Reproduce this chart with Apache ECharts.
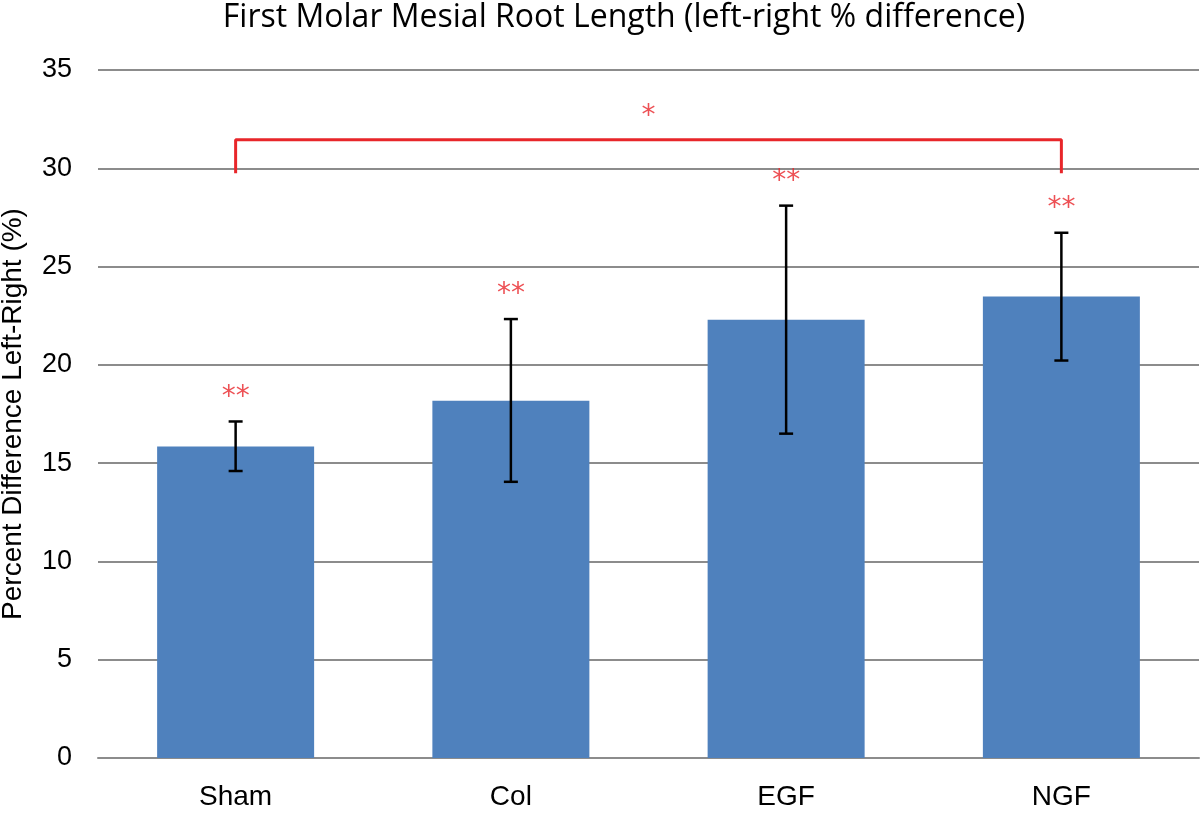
<!DOCTYPE html>
<html><head><meta charset="utf-8">
<script src="https://cdn.jsdelivr.net/npm/echarts@6/dist/echarts.min.js"></script>
<style>html,body{margin:0;padding:0;background:#fff}#c{width:1200px;height:813px}</style>
</head><body><div id="c"></div>
<script>
const categories = ['Sham', 'Col', 'EGF', 'NGF'];
const means = [15.85, 18.17, 22.3, 23.48];
const errLow = [14.6, 14.05, 16.5, 20.22];
const errHigh = [17.12, 22.33, 28.1, 26.72];
const sigLabels = ['**', '**', '**', '**'];
const bracketX = [0, 0, 3, 3];
const bracketY = [29.75, 31.45, 31.45, 29.75];
const bracketLabel = '*';
const bracketLabelPos = [1.5, 32.0];
const yTicks = [0, 5, 10, 15, 20, 25, 30, 35];

const chart = echarts.init(document.getElementById('c'), null, {renderer: 'canvas'});
const font = 'Liberation Sans, Arial, sans-serif';
chart.setOption({
  animation: false,
  backgroundColor: '#fff',
  title: {
    text: 'First Molar Mesial Root Length (left-right % difference)',
    left: 619, textAlign: 'center', top: -3,
    textStyle: {fontFamily: 'Open Sans, sans-serif', fontSize: 32, fontWeight: 'normal', color: '#000'}
  },
  grid: {left: 98, right: 1, top: 70, bottom: 55, containLabel: false, outerBoundsMode: 'none'},
  xAxis: [
    {type: 'category', data: categories,
     axisLine: {show: true, lineStyle: {color: '#8c8c8c', width: 2}},
     axisTick: {show: false},
     axisLabel: {fontFamily: font, fontSize: 28, color: '#000', margin: 25}},
    {type: 'value', min: -0.5, max: 3.5, show: false}
  ],
  yAxis: {
    type: 'value', min: yTicks[0], max: yTicks[yTicks.length - 1], interval: 5,
    name: 'Percent Difference Left-Right (%)', nameLocation: 'middle', nameGap: 71,
    nameTextStyle: {fontFamily: font, fontSize: 28, color: '#000'},
    axisLine: {show: false}, axisTick: {show: false},
    axisLabel: {fontFamily: font, fontSize: 27, color: '#000', margin: 26},
    splitLine: {lineStyle: {color: '#8c8c8c', width: 2}}
  },
  series: [
    {type: 'bar', data: means, barWidth: 157,
     itemStyle: {color: '#4f81bd'}, z: 2},
    {type: 'custom', xAxisIndex: 0,
     data: categories.map((c, i) => [i, errLow[i], errHigh[i]]),
     renderItem: function (params, api) {
       const lo = api.coord([api.value(0), api.value(1)]);
       const hi = api.coord([api.value(0), api.value(2)]);
       const w = 7;
       const st = {stroke: '#000', lineWidth: 2.5};
       return {type: 'group', children: [
         {type: 'line', shape: {x1: hi[0], y1: hi[1], x2: lo[0], y2: lo[1]}, style: st},
         {type: 'line', shape: {x1: hi[0] - w, y1: hi[1], x2: hi[0] + w, y2: hi[1]}, style: st},
         {type: 'line', shape: {x1: lo[0] - w, y1: lo[1], x2: lo[0] + w, y2: lo[1]}, style: st}
       ]};
     }, z: 5},
    {type: 'scatter', xAxisIndex: 0, symbolSize: 0,
     data: categories.map((c, i) => ({value: [i, errHigh[i]], label: {formatter: sigLabels[i]}})),
     label: {show: true, position: 'top', distance: 10, color: '#e8262a',
             fontFamily: 'DejaVu Sans, sans-serif', fontSize: 28}, z: 6},
    {type: 'line', xAxisIndex: 1, data: bracketX.map((x, i) => [x, bracketY[i]]),
     symbol: 'none', lineStyle: {color: '#e8262a', width: 3}, z: 6},
    {type: 'scatter', xAxisIndex: 1, symbolSize: 0,
     data: [{value: bracketLabelPos, label: {formatter: bracketLabel}}],
     label: {show: true, position: 'top', distance: -2, color: '#e8262a',
             fontFamily: 'DejaVu Sans, sans-serif', fontSize: 28}, z: 6}
  ]
});
</script></body></html>
